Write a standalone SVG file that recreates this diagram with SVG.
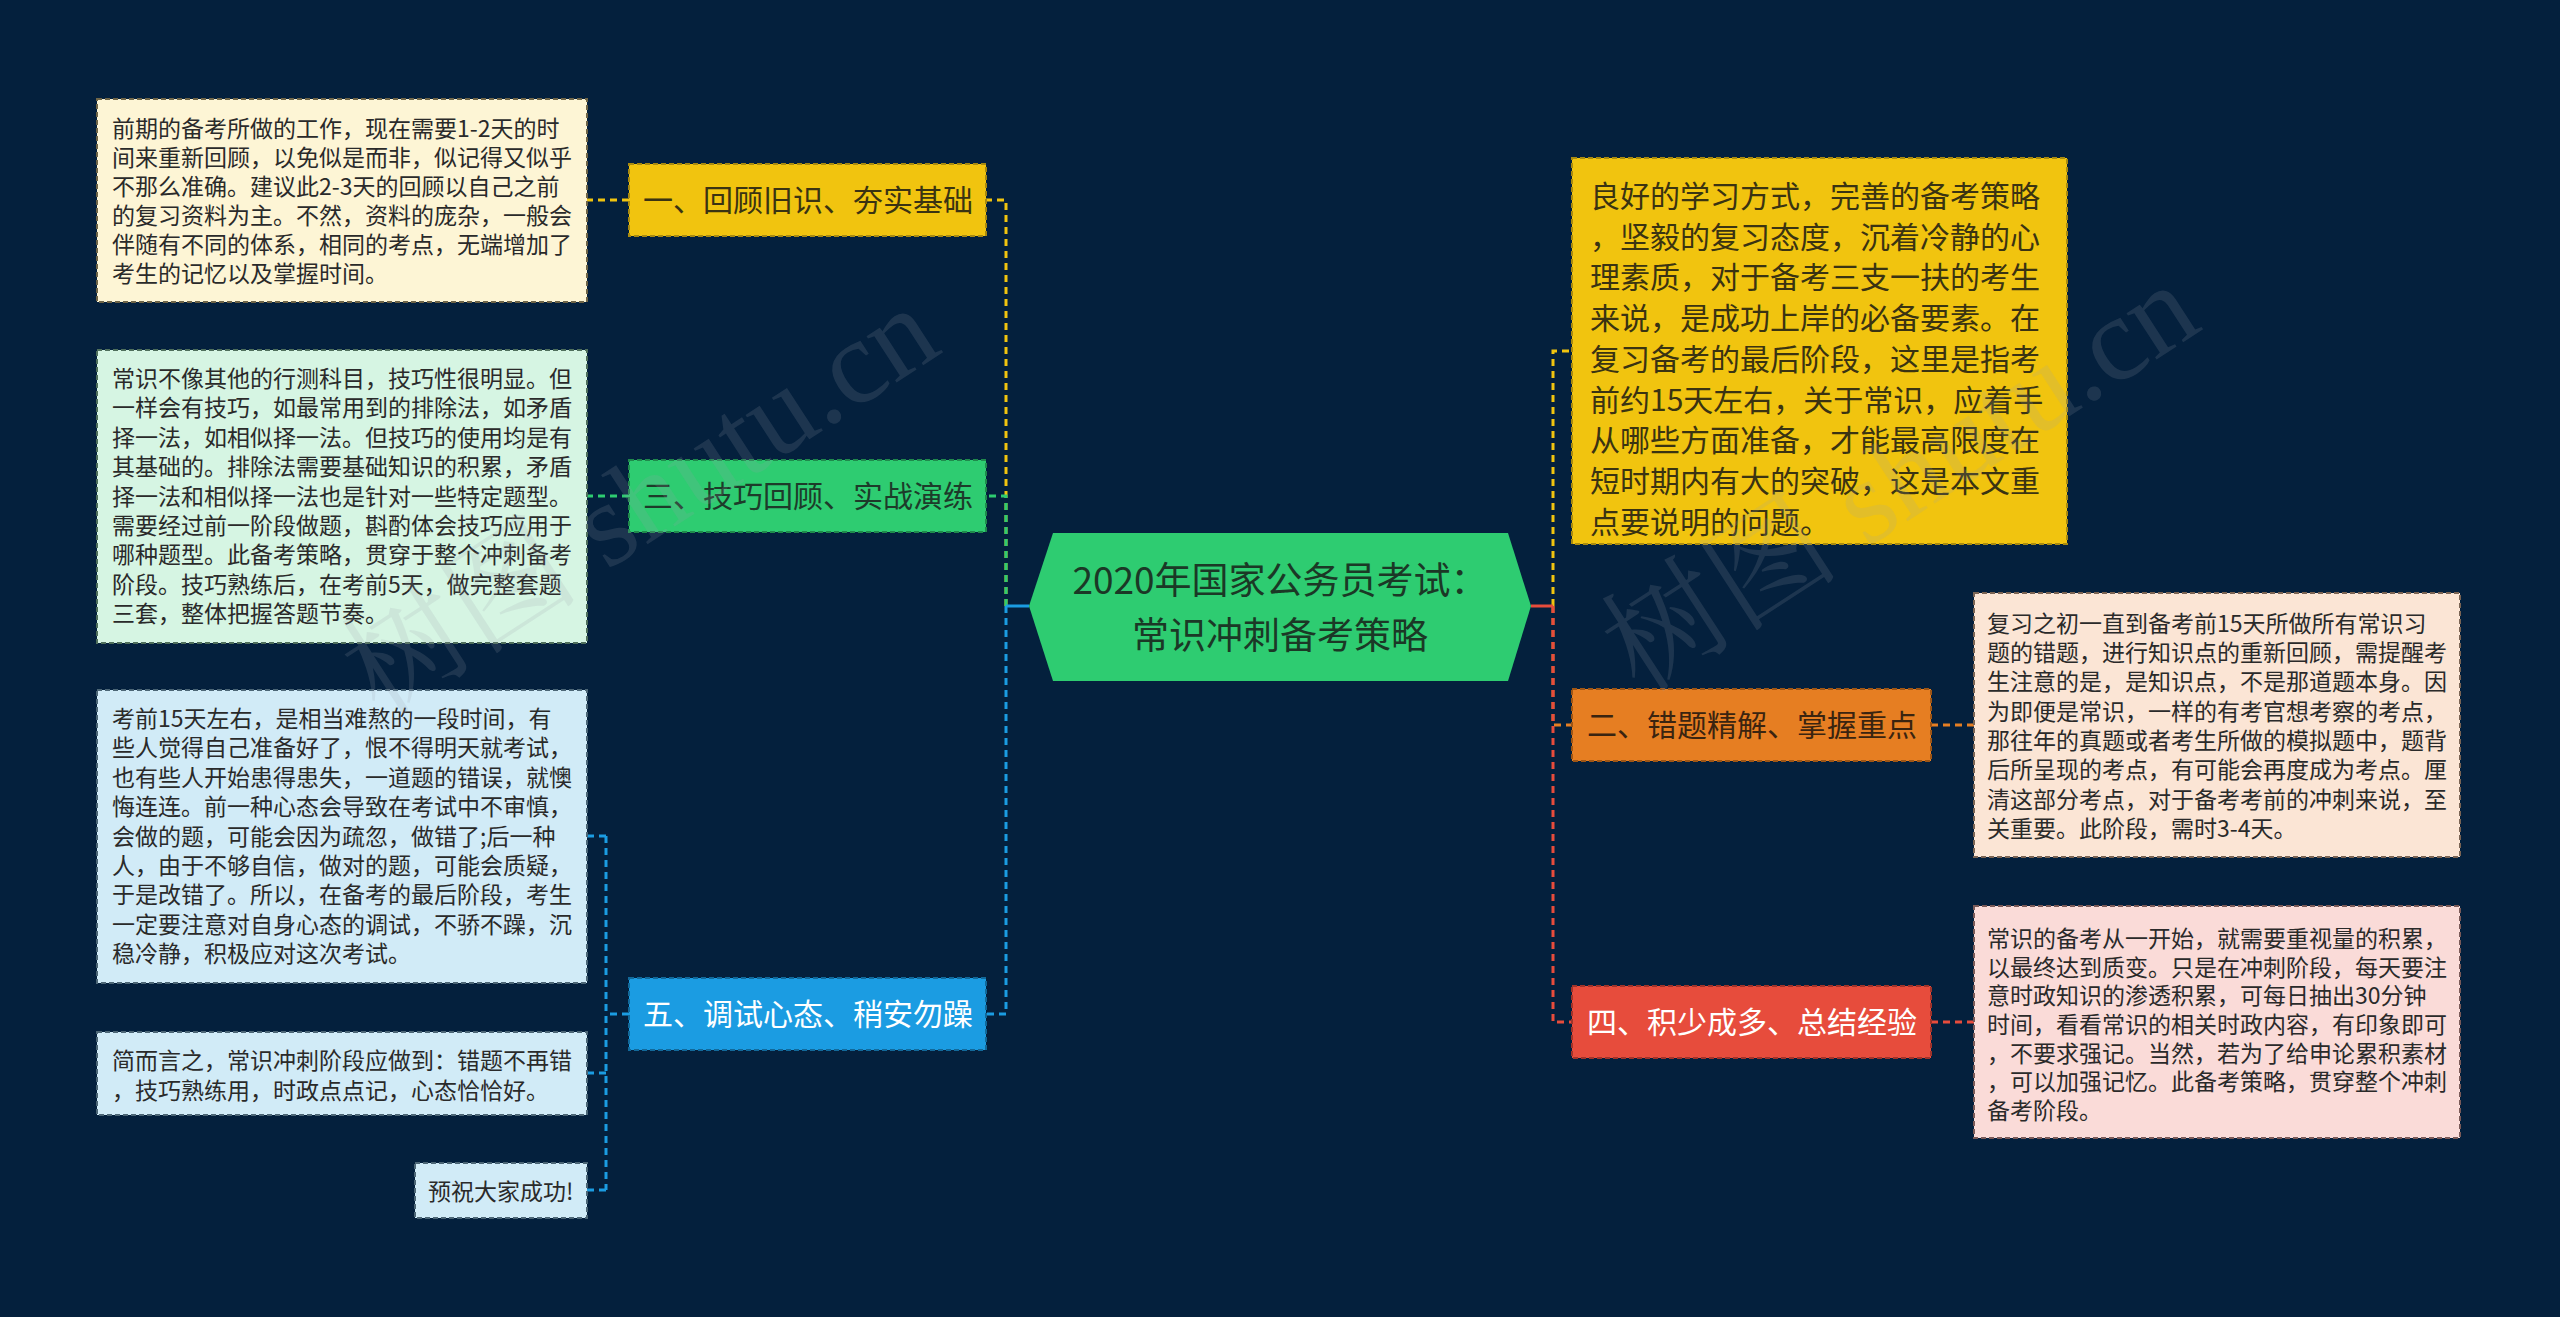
<svg xmlns="http://www.w3.org/2000/svg" width="2560" height="1317" viewBox="0 0 2560 1317">
<defs>
<style>
.t{font-family:"Noto Sans CJK SC","Noto Sans",sans-serif;}
.leaf{font-size:23px;fill:#2a2a2a;}
.br{font-size:30px;text-anchor:middle;}
.box{stroke-width:2;stroke-dasharray:5 3;}
.c{fill:none;stroke-width:3;stroke-dasharray:7 5;}
.wm{font-family:"Liberation Serif","Noto Serif CJK SC","Noto Sans CJK SC",serif;font-size:120px;fill:#9aa3ad;fill-opacity:0.17;}
</style>
</defs>
<rect x="0" y="0" width="2560" height="1317" fill="#04203d"/>

<g id="connectors">
  <path class="c" d="M1006 606 V200 H986" stroke="#f1c40f"/>
  <path class="c" d="M1006 606 V496 H986" stroke="#2ecc71"/>
  <path class="c" d="M1006 606 V1014 H986" stroke="#1b9ce2"/>
  <line x1="1029" y1="606" x2="1006" y2="606" stroke="#1b9ce2" stroke-width="3"/>
  <path class="c" d="M629 200 H587" stroke="#f1c40f"/>
  <path class="c" d="M629 496 H587" stroke="#2ecc71"/>
  <path class="c" d="M629 1014 H606" stroke="#1b9ce2"/>
  <path class="c" d="M606 836 V1190" stroke="#1b9ce2" stroke-width="2.5"/>
  <path class="c" d="M606 836 H587 M606 1073 H587 M606 1190 H587" stroke="#1b9ce2" stroke-width="2.5"/>
  <path class="c" d="M1553 606 V351 H1572" stroke="#f1c40f"/>
  <path class="c" d="M1553 606 V725 H1572" stroke="#e67e22"/>
  <path class="c" d="M1553 606 V1022 H1572" stroke="#e74c3c"/>
  <line x1="1531" y1="606" x2="1553" y2="606" stroke="#e74c3c" stroke-width="3"/>
  <path class="c" d="M1931 725 H1974" stroke="#e67e22"/>
  <path class="c" d="M1931 1022 H1974" stroke="#e74c3c"/>
</g>

<g id="center">
  <polygon points="1029,606 1053,533 1508,533 1531,606 1508,681 1053,681" fill="#2ecc71"/>
  <text class="t" x="1280" y="594" font-size="37" text-anchor="middle" fill="#1b3826">2020年国家公务员考试：</text>
  <text class="t" x="1280" y="649" font-size="37" text-anchor="middle" fill="#1b3826">常识冲刺备考策略</text>
</g>

<g id="b1">
  <rect class="box" x="629" y="164" width="357" height="72" fill="#f1c40f" stroke="#a88a10"/>
  <text class="t br" x="808" y="211" fill="#3a3312">一、回顾旧识、夯实基础</text>
</g>
<g id="b3">
  <rect class="box" x="629" y="460" width="357" height="72" fill="#2ecc71" stroke="#1f8a4c"/>
  <text class="t br" x="808" y="507" fill="#1d3b2a">三、技巧回顾、实战演练</text>
</g>
<g id="b5">
  <rect class="box" x="629" y="978" width="357" height="72" fill="#1b9ce2" stroke="#12699a"/>
  <text class="t br" x="808" y="1025" fill="#ffffff">五、调试心态、稍安勿躁</text>
</g>
<g id="b2">
  <rect class="box" x="1572" y="689" width="359" height="72" fill="#e67e22" stroke="#9e5515"/>
  <text class="t br" x="1752" y="736" fill="#3a2410">二、错题精解、掌握重点</text>
</g>
<g id="b4">
  <rect class="box" x="1572" y="986" width="359" height="72" fill="#e74c3c" stroke="#a0332a"/>
  <text class="t br" x="1752" y="1033" fill="#ffffff">四、积少成多、总结经验</text>
</g>

<g id="b0">
  <rect class="box" x="1572" y="158" width="495" height="386" fill="#f1c40f" stroke="#a88a10"/>
  <text class="t" font-size="30" fill="#3a3312">
    <tspan x="1590" y="207">良好的学习方式，完善的备考策略</tspan>
    <tspan x="1590" y="248">，坚毅的复习态度，沉着冷静的心</tspan>
    <tspan x="1590" y="288">理素质，对于备考三支一扶的考生</tspan>
    <tspan x="1590" y="329">来说，是成功上岸的必备要素。在</tspan>
    <tspan x="1590" y="370">复习备考的最后阶段，这里是指考</tspan>
    <tspan x="1590" y="411">前约15天左右，关于常识，应着手</tspan>
    <tspan x="1590" y="451">从哪些方面准备，才能最高限度在</tspan>
    <tspan x="1590" y="492">短时期内有大的突破，这是本文重</tspan>
    <tspan x="1590" y="533">点要说明的问题。</tspan>
  </text>
</g>

<g id="l1">
  <rect class="box" x="97" y="99" width="490" height="203" fill="#fdf5d5" stroke="#6f6548"/>
  <text class="t leaf">
    <tspan x="112" y="137">前期的备考所做的工作，现在需要1-2天的时</tspan>
    <tspan x="112" y="166">间来重新回顾，以免似是而非，似记得又似乎</tspan>
    <tspan x="112" y="195">不那么准确。建议此2-3天的回顾以自己之前</tspan>
    <tspan x="112" y="224">的复习资料为主。不然，资料的庞杂，一般会</tspan>
    <tspan x="112" y="253">伴随有不同的体系，相同的考点，无端增加了</tspan>
    <tspan x="112" y="282">考生的记忆以及掌握时间。</tspan>
  </text>
</g>

<g id="l3">
  <rect class="box" x="97" y="350" width="490" height="293" fill="#d6f5e3" stroke="#4f6f5c"/>
  <text class="t leaf" fill="#1f3328">
    <tspan x="112" y="387">常识不像其他的行测科目，技巧性很明显。但</tspan>
    <tspan x="112" y="416">一样会有技巧，如最常用到的排除法，如矛盾</tspan>
    <tspan x="112" y="446">择一法，如相似择一法。但技巧的使用均是有</tspan>
    <tspan x="112" y="475">其基础的。排除法需要基础知识的积累，矛盾</tspan>
    <tspan x="112" y="505">择一法和相似择一法也是针对一些特定题型。</tspan>
    <tspan x="112" y="534">需要经过前一阶段做题，斟酌体会技巧应用于</tspan>
    <tspan x="112" y="563">哪种题型。此备考策略，贯穿于整个冲刺备考</tspan>
    <tspan x="112" y="593">阶段。技巧熟练后，在考前5天，做完整套题</tspan>
    <tspan x="112" y="622">三套，整体把握答题节奏。</tspan>
  </text>
</g>

<g id="l5a">
  <rect class="box" x="97" y="690" width="490" height="293" fill="#d1ebf7" stroke="#4c6676"/>
  <text class="t leaf">
    <tspan x="112" y="727">考前15天左右，是相当难熬的一段时间，有</tspan>
    <tspan x="112" y="756">些人觉得自己准备好了，恨不得明天就考试，</tspan>
    <tspan x="112" y="786">也有些人开始患得患失，一道题的错误，就懊</tspan>
    <tspan x="112" y="815">悔连连。前一种心态会导致在考试中不审慎，</tspan>
    <tspan x="112" y="845">会做的题，可能会因为疏忽，做错了;后一种</tspan>
    <tspan x="112" y="874">人，由于不够自信，做对的题，可能会质疑，</tspan>
    <tspan x="112" y="903">于是改错了。所以，在备考的最后阶段，考生</tspan>
    <tspan x="112" y="933">一定要注意对自身心态的调试，不骄不躁，沉</tspan>
    <tspan x="112" y="962">稳冷静，积极应对这次考试。</tspan>
  </text>
</g>

<g id="l5b">
  <rect class="box" x="97" y="1032" width="490" height="83" fill="#d1ebf7" stroke="#4c6676"/>
  <text class="t leaf">
    <tspan x="112" y="1069">简而言之，常识冲刺阶段应做到：错题不再错</tspan>
    <tspan x="112" y="1099">，技巧熟练用，时政点点记，心态恰恰好。</tspan>
  </text>
</g>

<g id="l5c">
  <rect class="box" x="415" y="1163" width="172" height="55" fill="#d1ebf7" stroke="#4c6676"/>
  <text class="t leaf" x="428" y="1200">预祝大家成功!</text>
</g>

<g id="l2">
  <rect class="box" x="1974" y="593" width="486" height="264" fill="#fbe5d5" stroke="#7a6454"/>
  <text class="t leaf" fill="#3a2418">
    <tspan x="1987" y="632">复习之初一直到备考前15天所做所有常识习</tspan>
    <tspan x="1987" y="661">题的错题，进行知识点的重新回顾，需提醒考</tspan>
    <tspan x="1987" y="690">生注意的是，是知识点，不是那道题本身。因</tspan>
    <tspan x="1987" y="720">为即便是常识，一样的有考官想考察的考点，</tspan>
    <tspan x="1987" y="749">那往年的真题或者考生所做的模拟题中，题背</tspan>
    <tspan x="1987" y="778">后所呈现的考点，有可能会再度成为考点。厘</tspan>
    <tspan x="1987" y="808">清这部分考点，对于备考考前的冲刺来说，至</tspan>
    <tspan x="1987" y="837">关重要。此阶段，需时3-4天。</tspan>
  </text>
</g>

<g id="l4">
  <rect class="box" x="1974" y="906" width="486" height="232" fill="#fadbd8" stroke="#7a5a58"/>
  <text class="t leaf" fill="#4a1a16">
    <tspan x="1987" y="947">常识的备考从一开始，就需要重视量的积累，</tspan>
    <tspan x="1987" y="976">以最终达到质变。只是在冲刺阶段，每天要注</tspan>
    <tspan x="1987" y="1004">意时政知识的渗透积累，可每日抽出30分钟</tspan>
    <tspan x="1987" y="1033">时间，看看常识的相关时政内容，有印象即可</tspan>
    <tspan x="1987" y="1062">，不要求强记。当然，若为了给申论累积素材</tspan>
    <tspan x="1987" y="1090">，可以加强记忆。此备考策略，贯穿整个冲刺</tspan>
    <tspan x="1987" y="1119">备考阶段。</tspan>
  </text>
</g>

<g id="watermark">
  <text class="wm" transform="translate(380,718) rotate(-33)">树图 shutu.cn</text>
  <text class="wm" transform="translate(1640,695) rotate(-33)">树图 shutu.cn</text>
</g>
</svg>
